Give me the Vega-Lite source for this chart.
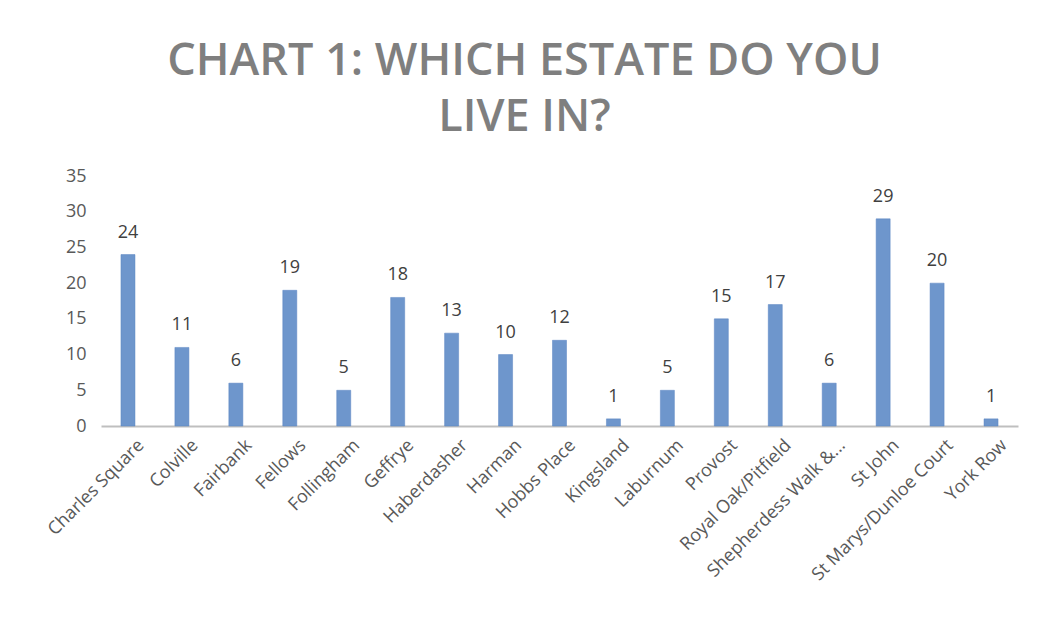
{
  "$schema": "https://vega.github.io/schema/vega-lite/v6.json",
  "autosize": {"type": "none"},
  "width": 917,
  "height": 250,
  "padding": {"left": 101, "top": 176, "right": 24, "bottom": 206},
  "background": "white",
  "config": {"view": {"stroke": null}, "font": "Open Sans"},
  "title": {
    "text": ["CHART 1: WHICH ESTATE DO YOU", "LIVE IN?"],
    "font": "Open Sans",
    "fontSize": 45,
    "fontWeight": 600,
    "color": "#7f7f7f",
    "anchor": "middle",
    "dx": -35,
    "offset": 27,
    "lineHeight": 56
  },
  "data": {
    "values": [
      {"estate": "Charles Square", "count": 24},
      {"estate": "Colville", "count": 11},
      {"estate": "Fairbank", "count": 6},
      {"estate": "Fellows", "count": 19},
      {"estate": "Follingham", "count": 5},
      {"estate": "Geffrye", "count": 18},
      {"estate": "Haberdasher", "count": 13},
      {"estate": "Harman", "count": 10},
      {"estate": "Hobbs Place", "count": 12},
      {"estate": "Kingsland", "count": 1},
      {"estate": "Laburnum", "count": 5},
      {"estate": "Provost", "count": 15},
      {"estate": "Royal Oak/Pitfield", "count": 17},
      {"estate": "Shepherdess Walk &...", "count": 6},
      {"estate": "St John", "count": 29},
      {"estate": "St Marys/Dunloe Court", "count": 20},
      {"estate": "York Row", "count": 1}
    ]
  },
  "encoding": {
    "x": {
      "field": "estate",
      "type": "nominal",
      "sort": null,
      "title": null,
      "scale": {"paddingInner": 0.74, "paddingOuter": 0.37},
      "axis": {
        "labelAngle": -45,
        "labelFont": "Open Sans",
        "labelFontSize": 18,
        "labelColor": "#595959",
        "labelPadding": 10,
        "labelOffset": 7,
        "labelLimit": 0,
        "ticks": false,
        "domainColor": "#bfbfbf",
        "domainWidth": 2,
        "labelOverlap": false
      }
    },
    "y": {
      "field": "count",
      "type": "quantitative",
      "title": null,
      "scale": {"domain": [0, 35], "nice": false},
      "axis": {
        "values": [0, 5, 10, 15, 20, 25, 30, 35],
        "grid": false,
        "domain": false,
        "ticks": false,
        "labelFont": "Open Sans",
        "labelFontSize": 18,
        "labelColor": "#595959",
        "labelPadding": 15
      }
    }
  },
  "layer": [
    {
      "mark": {"type": "bar", "color": "#6e96cc", "stroke": "#5a85c2", "strokeWidth": 0.5}
    },
    {
      "mark": {"type": "text", "baseline": "alphabetic", "dy": -17, "fontSize": 18, "color": "#404040", "font": "Open Sans"},
      "encoding": {"text": {"field": "count", "type": "quantitative"}}
    }
  ]
}
